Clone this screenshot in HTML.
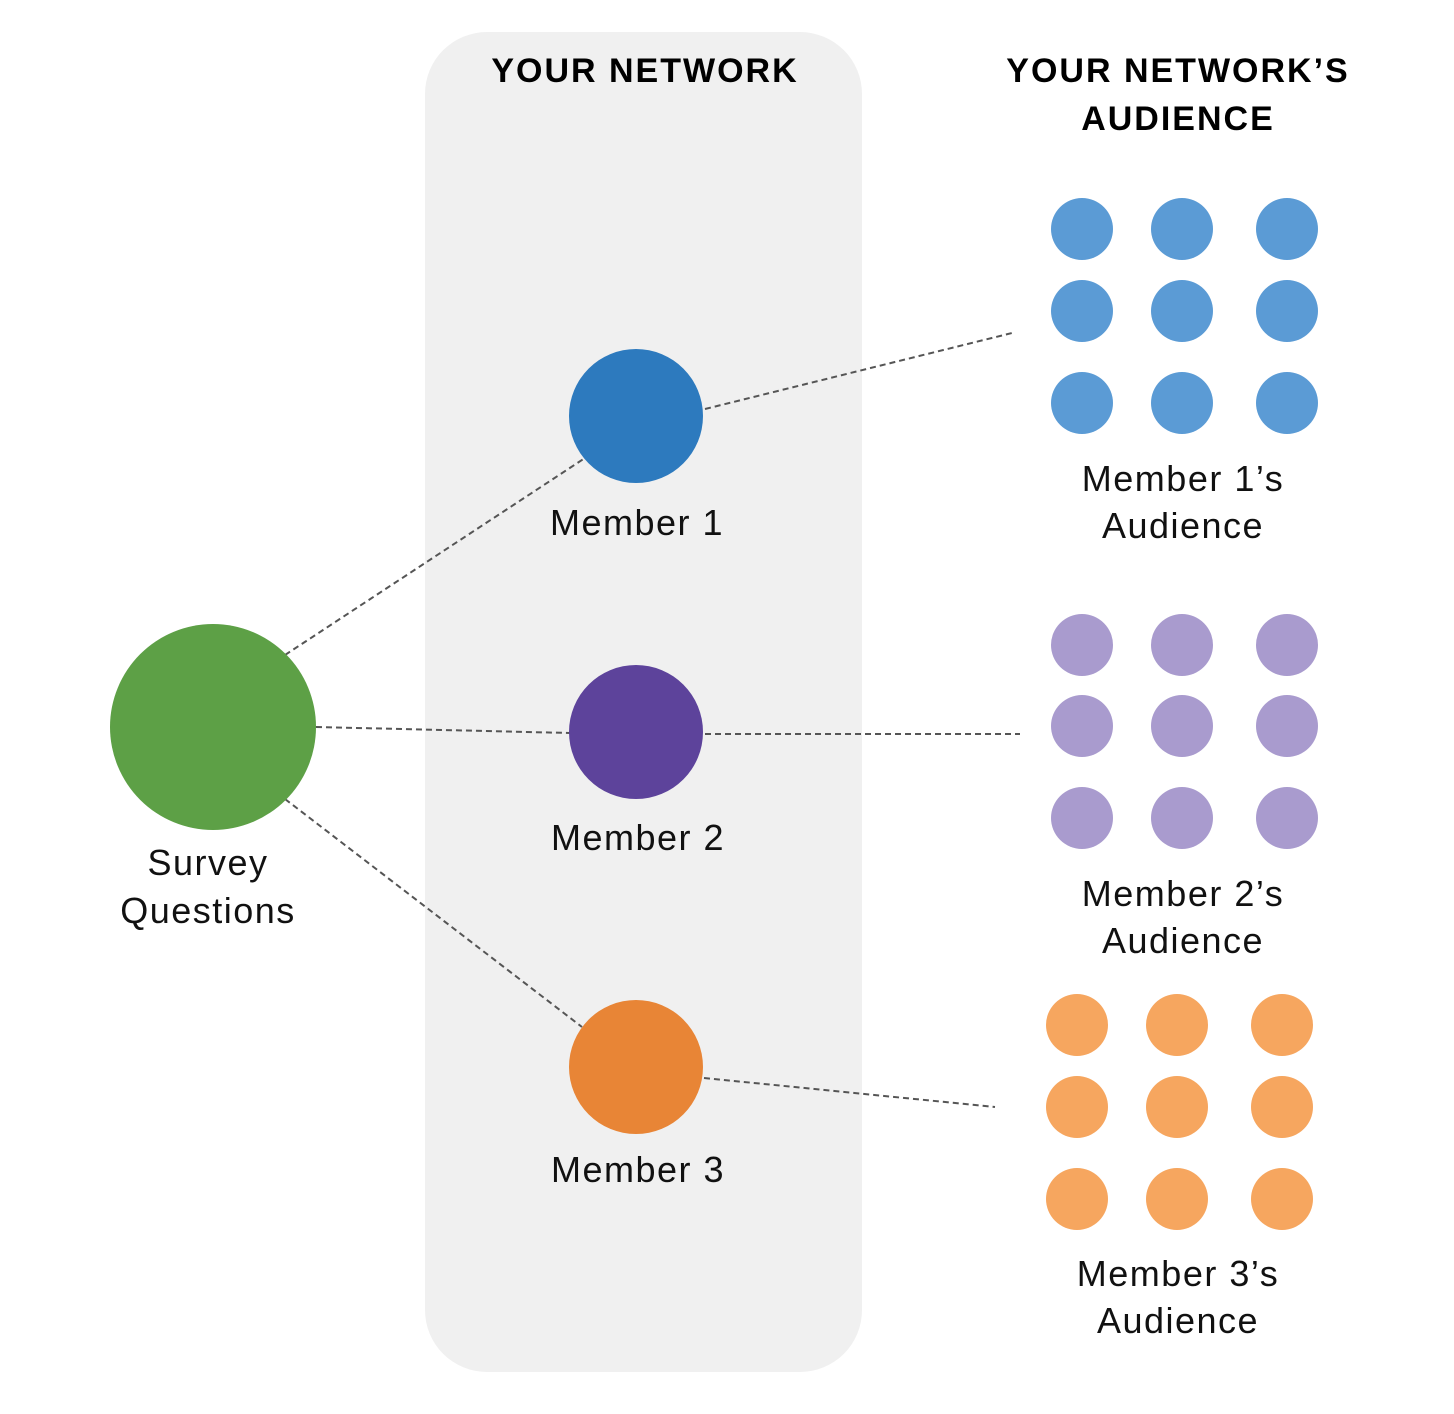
<!DOCTYPE html>
<html><head><style>html,body{margin:0;padding:0;background:#fff}svg{display:block}</style></head>
<body>
<svg width="1454" height="1414" viewBox="0 0 1454 1414" xmlns="http://www.w3.org/2000/svg" font-family="Liberation Sans, sans-serif">
<rect x="425" y="32" width="437" height="1340" rx="62" fill="#f0f0f0"/>
<g stroke="#555" stroke-width="2" stroke-dasharray="6,4" fill="none">
<line x1="285" y1="655" x2="585" y2="458"/>
<line x1="316" y1="727" x2="570" y2="733"/>
<line x1="285" y1="799" x2="582" y2="1027"/>
<line x1="705" y1="409" x2="1012" y2="333"/>
<line x1="705" y1="734" x2="1020" y2="734"/>
<line x1="704" y1="1078" x2="995" y2="1107"/>
</g>
<circle cx="213" cy="727" r="103" fill="#5da046"/>
<circle cx="636" cy="416" r="67" fill="#2d7abe"/>
<circle cx="636" cy="732" r="67" fill="#5d439b"/>
<circle cx="636" cy="1067" r="67" fill="#e88536"/>
<g fill="#5b9bd5">
<circle cx="1082" cy="229" r="31"/><circle cx="1182" cy="229" r="31"/><circle cx="1287" cy="229" r="31"/>
<circle cx="1082" cy="311" r="31"/><circle cx="1182" cy="311" r="31"/><circle cx="1287" cy="311" r="31"/>
<circle cx="1082" cy="403" r="31"/><circle cx="1182" cy="403" r="31"/><circle cx="1287" cy="403" r="31"/>
</g>
<g fill="#a99bce">
<circle cx="1082" cy="645" r="31"/><circle cx="1182" cy="645" r="31"/><circle cx="1287" cy="645" r="31"/>
<circle cx="1082" cy="726" r="31"/><circle cx="1182" cy="726" r="31"/><circle cx="1287" cy="726" r="31"/>
<circle cx="1082" cy="818" r="31"/><circle cx="1182" cy="818" r="31"/><circle cx="1287" cy="818" r="31"/>
</g>
<g fill="#f6a65f">
<circle cx="1077" cy="1025" r="31"/><circle cx="1177" cy="1025" r="31"/><circle cx="1282" cy="1025" r="31"/>
<circle cx="1077" cy="1107" r="31"/><circle cx="1177" cy="1107" r="31"/><circle cx="1282" cy="1107" r="31"/>
<circle cx="1077" cy="1199" r="31"/><circle cx="1177" cy="1199" r="31"/><circle cx="1282" cy="1199" r="31"/>
</g>
<g text-anchor="middle" font-weight="bold" font-size="34" fill="#000" letter-spacing="2">
<text x="645" y="82">YOUR NETWORK</text>
<text x="1178" y="82">YOUR NETWORK’S</text>
<text x="1178" y="130">AUDIENCE</text>
</g>
<g text-anchor="middle" font-size="36" fill="#111" letter-spacing="1.5">
<text x="637" y="535">Member 1</text>
<text x="638" y="850">Member 2</text>
<text x="638" y="1182">Member 3</text>
<text x="208" y="875">Survey</text>
<text x="208" y="923">Questions</text>
<text x="1183" y="491">Member 1’s</text>
<text x="1183" y="538">Audience</text>
<text x="1183" y="906">Member 2’s</text>
<text x="1183" y="953">Audience</text>
<text x="1178" y="1286">Member 3’s</text>
<text x="1178" y="1333">Audience</text>
</g>
</svg>
</body></html>
